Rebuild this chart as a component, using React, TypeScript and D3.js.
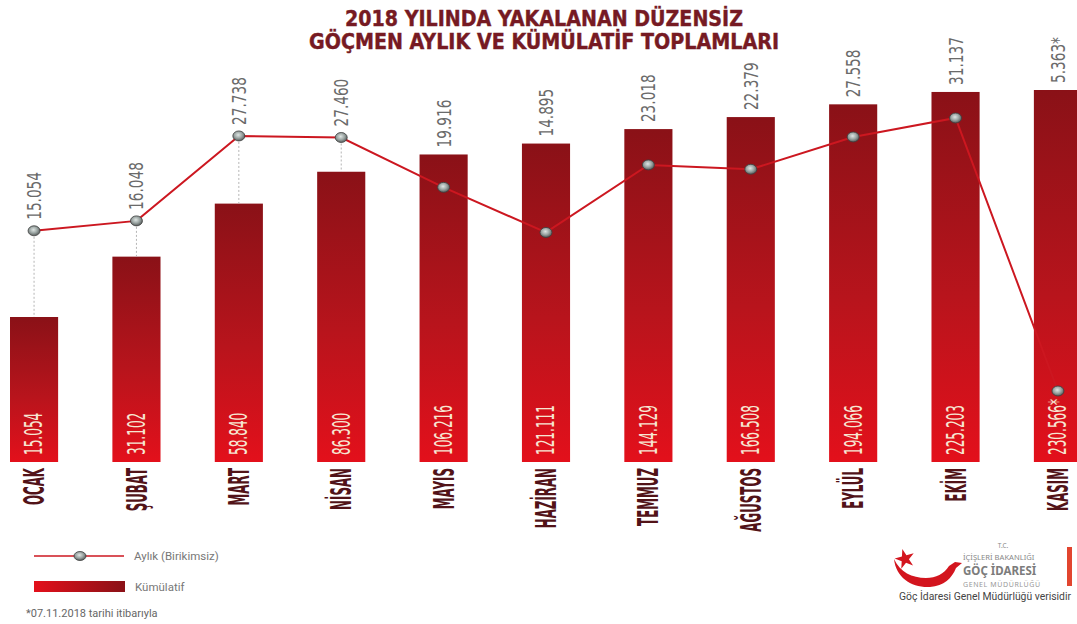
import React from "react";
import * as d3 from "d3";

const MONTHS = ["OCAK", "ŞUBAT", "MART", "NİSAN", "MAYIS", "HAZİRAN", "TEMMUZ", "AĞUSTOS", "EYLÜL", "EKİM", "KASIM"];
const MONTHLY = [15054, 16048, 27738, 27460, 19916, 14895, 23018, 22379, 27558, 31137, 5363];
const CUMULATIVE = [15054, 31102, 58840, 86300, 106216, 121111, 144129, 166508, 194066, 225203, 230566];
const PARTIAL_MONTH = "KASIM";
const TITLE_LINES = ["2018 YILINDA YAKALANAN DÜZENSİZ", "GÖÇMEN AYLIK VE KÜMÜLATİF TOPLAMLARI"];
const LEGEND_LABELS = ["Aylık (Birikimsiz)", "Kümülatif"];
const FOOTNOTE = "*07.11.2018 tarihi itibarıyla";
const SOURCE = "Göç İdaresi Genel Müdürlüğü verisidir";
const LOGO_LINES = ["T.C.", "İÇİŞLERİ BAKANLIĞI", "GÖÇ İDARESİ", "GENEL MÜDÜRLÜĞÜ"];

const W = 1077;
const H = 624;
const BASE_Y = 462;
const NARROW = "'Liberation Sans Narrow', 'DejaVu Sans Condensed', 'Arial Narrow', sans-serif";
const SANS = "Roboto, 'Noto Sans', 'Liberation Sans', sans-serif";
const LOGO_FONT = "'Noto Sans', 'DejaVu Sans', sans-serif";

const trLocale = d3.formatLocale({ decimal: ",", thousands: ".", grouping: [3], currency: ["", "₺"] });
const fmt = trLocale.format(",d");

export default function App() {
  const x = d3.scaleBand<string>().domain(MONTHS).range([10, 1082]).paddingInner(0.53).paddingOuter(0);
  const yBar = d3.scaleLog().domain(d3.extent(CUMULATIVE) as [number, number]).range([317, 90]);
  const yLine = d3.scaleLog().domain(d3.extent(MONTHLY) as [number, number]).range([391, 118]);
  const bw = x.bandwidth();
  const cx = (m: string) => (x(m) as number) + bw / 2;

  const rows = MONTHS.map((m, i) => ({
    m,
    monthly: MONTHLY[i],
    cum: CUMULATIVE[i],
    star: m === PARTIAL_MONTH ? "*" : "",
  }));

  const line = d3
    .line<(typeof rows)[number]>()
    .x((d) => cx(d.m))
    .y((d) => yLine(d.monthly));

  const starPath = d3.symbol(d3.symbolStar, 120)() as string;

  return (
    <svg width={W} height={H} style={{ position: "absolute", left: 0, top: 0, background: "#fff" }}>
      <defs>
        <linearGradient id="barGrad" x1="0" y1="0" x2="0" y2="1">
          <stop offset="0%" stopColor="#8a1117" />
          <stop offset="55%" stopColor="#b8141c" />
          <stop offset="100%" stopColor="#e3101b" />
        </linearGradient>
        <linearGradient id="legGrad" x1="0" y1="0" x2="1" y2="0">
          <stop offset="0%" stopColor="#e3101b" />
          <stop offset="100%" stopColor="#8a1117" />
        </linearGradient>
        <radialGradient id="dotGrad" cx="45%" cy="40%" r="60%">
          <stop offset="0%" stopColor="#dfe6e4" />
          <stop offset="55%" stopColor="#9aa4a2" />
          <stop offset="100%" stopColor="#555a59" />
        </radialGradient>
      </defs>

      {/* Title */}
      {TITLE_LINES.map((t, i) => (
        <text
          key={t}
          x={544}
          y={26 + i * 23}
          textAnchor="middle"
          fontFamily={NARROW}
          fontWeight="bold"
          fontSize={22}
          fill="#761a23"
          stroke="#761a23"
          strokeWidth={0.4}
          textLength={i === 0 ? 398 : 470}
          lengthAdjust="spacingAndGlyphs"
        >
          {t}
        </text>
      ))}

      {/* Bars */}
      {rows.map((d) => (
        <rect
          key={"b" + d.m}
          x={x(d.m)}
          y={yBar(d.cum)}
          width={bw}
          height={BASE_Y - yBar(d.cum)}
          fill="url(#barGrad)"
        />
      ))}

      {/* Dotted guides from dot to bar top */}
      {rows.map((d) => {
        const dy = yLine(d.monthly);
        const by = yBar(d.cum);
        if (dy + 6 >= by) return null;
        return (
          <line
            key={"g" + d.m}
            x1={cx(d.m)}
            x2={cx(d.m)}
            y1={dy + 6}
            y2={by}
            stroke="#b5b5b5"
            strokeWidth={1}
            strokeDasharray="2,2"
          />
        );
      })}

      {/* Monthly line */}
      <path d={line(rows) as string} fill="none" stroke="#cc1720" strokeWidth={2} />
      {rows.map((d) => (
        <ellipse
          key={"d" + d.m}
          cx={cx(d.m)}
          cy={yLine(d.monthly)}
          rx={6}
          ry={5}
          fill="url(#dotGrad)"
          stroke="#3d3f3f"
          strokeWidth={0.8}
        />
      ))}

      {/* Monthly value labels */}
      {rows.map((d) => {
        const bottom = Math.min(yLine(d.monthly) - 11, yBar(d.cum) - 7);
        return (
          <text
            key={"t" + d.m}
            transform={`translate(${cx(d.m)},${bottom}) rotate(-90) scale(0.76,1)`}
            dy="0.35em"
            textAnchor="start"
            fontFamily={NARROW}
            fontSize={20}
            fill="#6a6a6a"
          >
            {fmt(d.monthly) + d.star}
          </text>
        );
      })}

      {/* Cumulative labels inside bars */}
      {rows.map((d) => (
        <text
          key={"c" + d.m}
          transform={`translate(${cx(d.m)},${BASE_Y - 7}) rotate(-90) scale(0.56,1)`}
          dy="0.35em"
          textAnchor="start"
          fontFamily={NARROW}
          fontSize={24}
          fill="#f6e6d2"
        >
          {fmt(d.cum) + d.star}
        </text>
      ))}

      {/* Month labels */}
      {rows.map((d) => (
        <text
          key={"m" + d.m}
          transform={`translate(${cx(d.m)},${BASE_Y + 6}) rotate(-90) scale(0.47,1)`}
          dy="0.36em"
          textAnchor="end"
          fontFamily={NARROW}
          fontWeight="bold"
          fontSize={28}
          fill="#521318"
        >
          {d.m}
        </text>
      ))}

      {/* Legend */}
      <g>
        <line x1={34} x2={124} y1={556} y2={556} stroke="#cc1720" strokeWidth={1.6} />
        <ellipse cx={80} cy={556} rx={6} ry={4.5} fill="url(#dotGrad)" stroke="#3d3f3f" strokeWidth={0.8} />
        <text x={134} y={560} fontFamily={SANS} fontSize={11.5} fill="#777">
          {LEGEND_LABELS[0]}
        </text>
        <rect x={34} y={581} width={91} height={11} fill="url(#legGrad)" />
        <text x={135} y={591} fontFamily={SANS} fontSize={11.5} fill="#777">
          {LEGEND_LABELS[1]}
        </text>
        <text x={26} y={617} fontFamily={SANS} fontSize={11} fill="#666">
          {FOOTNOTE}
        </text>
      </g>

      {/* Logo */}
      <g>
        <path
          d="M 894 559 C 896 578, 912 588, 930 587 C 944 586, 952 578, 956 568 L 962 563 L 955 562 L 949 566 C 944 574, 936 578, 926 578 C 912 578, 900 572, 894 559 Z"
          fill="#d3151e"
        />
        <path d={starPath} transform="translate(905,559) rotate(-15)" fill="#d3151e" />
        <text x={1003} y={548} textAnchor="middle" fontFamily={LOGO_FONT} fontSize={6.5} fill="#888">
          {LOGO_LINES[0]}
        </text>
        <text x={963} y={559.5} fontFamily={LOGO_FONT} fontSize={7.6} fill="#888">
          {LOGO_LINES[1]}
        </text>
        <text x={963} y={575} fontFamily={LOGO_FONT} fontSize={11.5} fontWeight="bold" fill="#7c7c7c">
          {LOGO_LINES[2]}
        </text>
        <text x={963} y={586.5} fontFamily={LOGO_FONT} fontSize={7} fill="#999" letterSpacing={0.6}>
          {LOGO_LINES[3]}
        </text>
        <rect x={1067} y={547} width={5} height={39} fill="#e2452f" />
        <text
          x={899}
          y={600}
          fontFamily={SANS}
          fontSize={10.3}
          fill="#444"
          textLength={172}
          lengthAdjust="spacingAndGlyphs"
        >
          {SOURCE}
        </text>
      </g>
    </svg>
  );
}
